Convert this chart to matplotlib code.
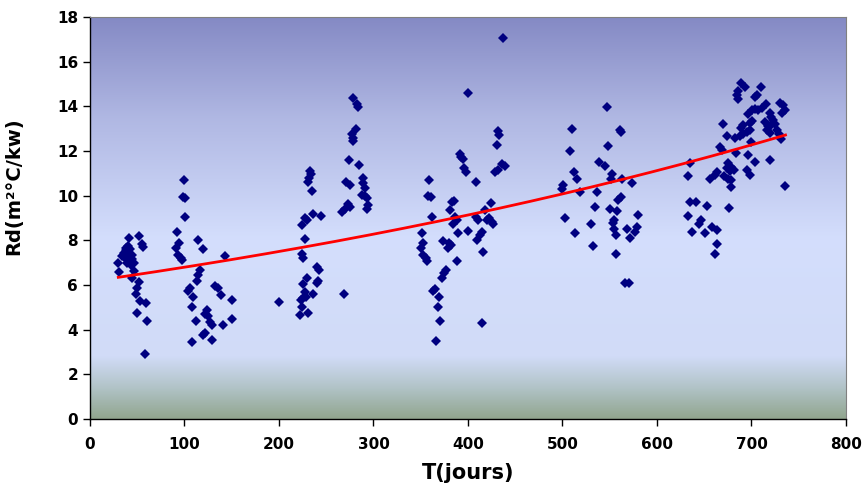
import matplotlib
matplotlib.use("Agg")
import matplotlib.pyplot as plt
from matplotlib.colors import LinearSegmentedColormap
import numpy as np

T_DAYS = [
    30, 31, 34, 36, 38, 40, 42, 44, 37, 41, 52, 55, 56, 45, 47, 47, 44, 52, 50, 49,
    53, 59, 50, 60, 58, 39, 43, 40, 38,
    99.5, 98, 101, 101, 92, 94, 91, 93.5, 96, 97, 114.6, 120, 143, 116.4, 114.6, 113,
    106, 104, 109, 132, 136, 139, 150, 108, 123.5, 122, 125, 112, 127, 129, 141,
    150.6, 122, 120, 129, 107.6,
    200, 233, 234, 232, 231, 235, 236.4, 245, 227.5, 230, 224, 228, 224, 225.7, 240,
    242.6, 230, 225.7, 241.6, 240, 236.3, 227.5, 229, 223, 225.7, 224.7, 222, 231, 268.8,
    278.6, 282.8, 284, 281.5, 277, 278, 278.6, 274, 285, 271, 275, 288.5, 289, 291,
    287.5, 291, 293.5, 273, 270, 267, 275, 294.5, 292.8,
    359, 358, 360.5, 361.5, 351, 352.7, 350, 352.7, 355.5, 357, 365, 363.3, 369.3, 368,
    370.4, 366, 372, 374.6, 376.7, 374, 379, 381.6, 388, 382.7, 385, 381, 386, 388,
    389.8, 384.5, 391.5, 394.4, 395.8, 398, 393, 400.3, 399.7, 408.5, 408.5, 411,
    414.5, 412.7, 409.8, 416, 415, 418, 424, 419.8, 425, 426.7, 422, 429, 432, 431,
    432, 433, 435.6, 439, 437.4, 380,
    510, 508, 512, 515.7, 501, 499, 518.5, 503, 513.6, 547.4, 561, 562, 548.5, 539, 545,
    552.7, 551, 563, 574, 537, 561.5, 559, 534, 550, 558, 580, 554.5, 553, 530, 568,
    578.5, 576.7, 571.4, 554.5, 557, 532.6, 557, 566, 570.7,
    689, 693, 686, 684.3, 686, 710, 705.5, 703.7, 715, 711.5, 707, 703.7, 701, 730,
    733.7, 735.4, 732.6, 696, 719.6, 721, 723, 724.9, 721, 714, 717.3, 701, 698.4,
    669.5, 691.3, 689, 698.4, 695, 691.3, 688, 716, 719.6, 726.6, 729, 731, 673.7,
    682.5, 699.5, 666.7, 668.4, 683.6, 635, 696, 703.7, 719.6, 675.4, 678.3, 673.7,
    681.8, 677.2, 695, 698.4, 663, 661.4, 656, 671, 675.4, 678.3, 633, 678.3, 736,
    635, 641, 652.5, 676.5, 632.5, 647, 644, 658.5, 664, 637.4, 650.8, 664, 661.4,
]
RD = [
    7.0, 6.6, 7.3, 7.45, 7.55, 7.4, 7.6, 7.35, 7.2, 8.1, 8.2, 7.85, 7.7, 7.15, 7.0, 6.65,
    6.3, 6.15, 5.85, 5.6, 5.3, 5.2, 4.75, 4.4, 2.9, 7.0, 6.9, 7.75, 7.65,
    10.7, 9.95, 9.9, 9.05, 8.37, 7.9, 7.68, 7.34, 7.23, 7.11, 8.0, 7.6, 7.29, 6.67, 6.44,
    6.19, 5.85, 5.75, 5.47, 5.95, 5.85, 5.55, 5.32, 5.0, 4.88, 4.7, 4.6, 4.4, 4.34, 4.2,
    4.2, 4.5, 3.83, 3.76, 3.53, 3.46,
    5.22, 11.1, 10.95, 10.8, 10.6, 10.2, 9.2, 9.1, 9.0, 8.9, 8.7, 8.05, 7.4, 7.19, 6.8,
    6.67, 6.3, 6.04, 6.2, 6.07, 5.58, 5.7, 5.47, 5.32, 5.4, 5.03, 4.65, 4.73, 5.62,
    14.38, 14.12, 13.97, 12.98, 12.78, 12.59, 12.44, 11.59, 11.36, 10.62, 10.5, 10.8,
    10.55, 10.35, 10.05, 10.0, 9.88, 9.65, 9.4, 9.28, 9.5, 9.57, 9.4,
    10.7, 9.98, 9.92, 9.05, 8.35, 7.89, 7.68, 7.34, 7.23, 7.08, 5.8, 5.74, 5.47, 5.0,
    4.4, 3.49, 6.3, 6.52, 6.67, 7.98, 7.64, 7.79, 7.08, 9.72, 9.77, 9.38, 9.05, 8.9,
    8.31, 8.75, 11.89, 11.66, 11.22, 11.07, 11.74, 14.6, 8.42, 10.62, 9.05, 8.93,
    8.38, 8.23, 8.0, 7.49, 4.28, 9.35, 9.68, 8.9, 8.83, 8.75, 9.0, 11.07, 11.17, 12.26,
    12.9, 12.7, 11.44, 11.33, 17.08, 7.9,
    12.98, 11.98, 11.04, 10.77, 10.47, 10.29, 10.17, 9.0, 8.34, 13.97, 12.93, 12.86,
    12.23, 11.51, 11.32, 10.96, 10.77, 10.77, 10.57, 10.17, 9.95, 9.8, 9.5, 9.4, 9.32,
    9.13, 8.9, 8.78, 8.75, 8.49, 8.6, 8.38, 8.09, 8.49, 8.26, 7.74, 7.37, 6.07, 6.07,
    15.07, 14.87, 14.69, 14.5, 14.35, 14.87, 14.5, 14.42, 14.12, 13.95, 13.85, 13.9,
    13.83, 14.15, 14.05, 13.86, 13.7, 13.68, 13.7, 13.53, 13.38, 13.23, 13.15, 13.3,
    13.1, 13.35, 13.26, 13.23, 13.15, 13.05, 12.93, 12.86, 12.75, 12.66, 12.93, 12.81,
    12.93, 12.78, 12.56, 12.66, 12.6, 12.41, 12.16, 12.04, 11.92, 11.47, 11.81, 11.51,
    11.62, 11.47, 11.29, 11.26, 11.14, 11.11, 11.17, 10.92, 11.07, 10.92, 10.77, 10.87,
    10.77, 10.69, 10.87, 10.37, 10.43, 9.72, 9.72, 9.53, 9.43, 9.08, 8.9, 8.75, 8.6,
    8.46, 8.38, 8.35, 7.82, 7.38,
]

# exponential trend line y = a * exp(b * t)
TREND_A = 6.16
TREND_B = 0.000985

X_TICKS = list(range(0, 801, 100))
Y_TICKS = list(range(0, 19, 2))

t = np.array(T_DAYS)
rd = np.array(RD)

plt.rcParams["font.family"] = ["DejaVu Sans"]
plt.rcParams["font.weight"] = "bold"

fig = plt.figure(figsize=(8.65, 4.88), dpi=100)
ax = fig.add_axes([0.104, 0.1414, 0.874, 0.8236])

# plot-area gradient (Excel style): purple top, pale middle, grey-green bottom
bg = LinearSegmentedColormap.from_list("bg", [
    (0.00, (0.57, 0.65, 0.56)),
    (0.08, (0.70, 0.77, 0.79)),
    (0.155, (0.82, 0.86, 0.97)),
    (0.45, (0.83, 0.87, 0.99)),
    (0.75, (0.69, 0.72, 0.89)),
    (1.00, (0.52, 0.54, 0.77)),
])
grad = np.linspace(0, 1, 256).reshape(-1, 1)
ax.imshow(grad, cmap=bg, origin="lower", extent=[0, 1, 0, 1], aspect="auto",
          transform=ax.transAxes, zorder=0)

ax.plot(t, rd, "D", color="#000080", markersize=5, markeredgewidth=0, zorder=2)

tt = np.linspace(t.min(), t.max(), 200)
ax.plot(tt, TREND_A * np.exp(TREND_B * tt), color="#ff0000", lw=2, zorder=3)

ax.set_xlim(0, 800)
ax.set_ylim(0, 18)
ax.set_xticks(X_TICKS)
ax.set_yticks(Y_TICKS)
ax.tick_params(direction="out", length=5, width=1, labelsize=11, colors="black")
ax.tick_params(axis="x", pad=8)
for lab in ax.get_xticklabels() + ax.get_yticklabels():
    lab.set_fontweight("bold")

for side in ("left", "bottom"):
    ax.spines[side].set_color("black")
    ax.spines[side].set_linewidth(1)
for side in ("top", "right"):
    ax.spines[side].set_color("#808080")
    ax.spines[side].set_linewidth(0.8)

ax.set_xlabel("T(jours)", fontsize=15, fontweight="bold", labelpad=8)
ax.set_ylabel("Rd(m²°C/kw)", fontsize=14, fontweight="bold")
ax.yaxis.set_label_coords(-0.088, 0.58)

fig.savefig("out.png", dpi=100)
